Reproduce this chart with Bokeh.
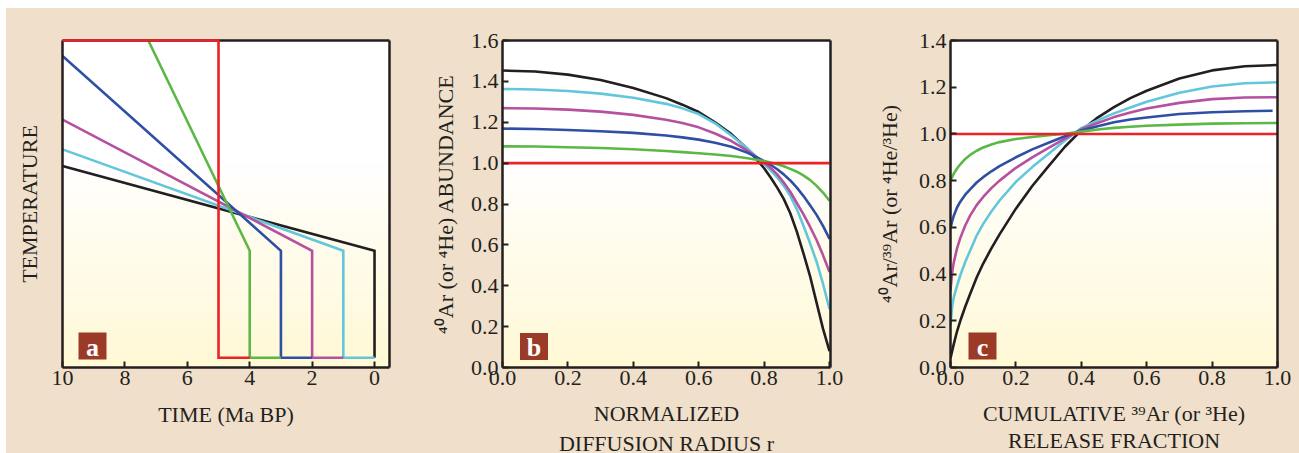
import numpy as np
from bokeh.plotting import figure
from bokeh.layouts import row
from bokeh.models import Range1d, FixedTicker, PrintfTickFormatter, LinearAxis
from bokeh.embed import file_html
from bokeh.resources import INLINE

# ---------------- data ----------------
# Panel a: temperature-time paths (arbitrary temperature units)
a_red_t = [10, 5, 5, 4]
a_red_T = [100, 100, 3, 3]
a_green_t = [7.25, 4, 4, 3]
a_green_T = [100, 35.7, 3, 3]
a_blue_t = [10, 3, 3, 2]
a_blue_T = [95.3, 35.7, 3, 3]
a_magenta_t = [10, 2, 2, 1]
a_magenta_T = [75.8, 35.7, 3, 3]
a_cyan_t = [10, 1, 1, 0]
a_cyan_T = [66.7, 35.7, 3, 3]
a_black_t = [10, 0, 0]
a_black_T = [61.6, 35.7, 3]
a_ticks = [10, 8, 6, 4, 2, 0]

# Panel b: abundance vs normalized radius
b_r = [0, 0.1, 0.2, 0.3, 0.4, 0.5, 0.55, 0.6, 0.65, 0.7, 0.75, 0.8, 0.82, 0.84, 0.86,
       0.88, 0.9, 0.92, 0.94, 0.96, 0.98, 1.0]
b_black = [1.453, 1.448, 1.433, 1.407, 1.368, 1.318, 1.286, 1.250, 1.200, 1.142, 1.068,
           0.975, 0.930, 0.880, 0.825, 0.755, 0.665, 0.560, 0.450, 0.320, 0.190, 0.080]
b_cyan = [1.363, 1.360, 1.353, 1.340, 1.320, 1.290, 1.268, 1.240, 1.195, 1.135, 1.070,
          0.995, 0.965, 0.930, 0.890, 0.840, 0.775, 0.695, 0.610, 0.520, 0.410, 0.286]
b_magenta = [1.269, 1.267, 1.262, 1.252, 1.236, 1.212, 1.196, 1.175, 1.145, 1.108, 1.060,
             1.003, 0.977, 0.945, 0.905, 0.860, 0.805, 0.750, 0.690, 0.625, 0.550, 0.467]
b_blue = [1.169, 1.167, 1.162, 1.156, 1.148, 1.135, 1.126, 1.115, 1.100, 1.080, 1.050,
          1.010, 0.992, 0.970, 0.945, 0.915, 0.880, 0.840, 0.795, 0.748, 0.693, 0.629]
b_green = [1.082, 1.081, 1.078, 1.074, 1.068, 1.059, 1.054, 1.048, 1.042, 1.035, 1.024,
           1.010, 1.003, 0.995, 0.985, 0.972, 0.958, 0.940, 0.918, 0.890, 0.856, 0.816]
b_red_r = [0, 1]
b_red = [1.0, 1.0]
b_xticks = [0, 0.2, 0.4, 0.6, 0.8, 1.0]
b_yticks = [0, 0.2, 0.4, 0.6, 0.8, 1.0, 1.2, 1.4, 1.6]

# Panel c: ratio vs cumulative release fraction
c_f = [0, 0.005, 0.01, 0.02, 0.03, 0.045, 0.06, 0.08, 0.1, 0.125, 0.15, 0.2, 0.25,
       0.3, 0.35, 0.4, 0.45, 0.5, 0.55, 0.6, 0.7, 0.8, 0.9, 1.0]
c_black = [0.04, 0.07, 0.10, 0.155, 0.20, 0.26, 0.315, 0.385, 0.445, 0.51, 0.57, 0.68, 0.777,
           0.862, 0.945, 1.015, 1.07, 1.115, 1.153, 1.185, 1.237, 1.272, 1.29, 1.295]
c_cyan = [0.18, 0.26, 0.30, 0.35, 0.395, 0.452, 0.50, 0.565, 0.615, 0.668, 0.715, 0.795, 0.858,
          0.915, 0.972, 1.025, 1.058, 1.088, 1.113, 1.138, 1.176, 1.203, 1.217, 1.221]
c_magenta = [0.33, 0.405, 0.45, 0.51, 0.555, 0.608, 0.65, 0.695, 0.73, 0.768, 0.80, 0.855, 0.90,
             0.94, 0.98, 1.02, 1.047, 1.072, 1.092, 1.109, 1.133, 1.149, 1.156, 1.157]
c_blue_f = [0, 0.005, 0.01, 0.02, 0.03, 0.045, 0.06, 0.08, 0.1, 0.125, 0.15, 0.2, 0.25,
            0.3, 0.35, 0.4, 0.45, 0.5, 0.55, 0.6, 0.7, 0.8, 0.9, 0.985]
c_blue = [0.596, 0.625, 0.65, 0.685, 0.71, 0.74, 0.763, 0.792, 0.815, 0.84, 0.862, 0.90, 0.934,
          0.962, 0.99, 1.015, 1.033, 1.05, 1.062, 1.07, 1.085, 1.093, 1.097, 1.099]
c_green = [0.80, 0.815, 0.83, 0.852, 0.87, 0.893, 0.91, 0.928, 0.942, 0.955, 0.965, 0.978, 0.987,
           0.994, 1.001, 1.01, 1.019, 1.026, 1.031, 1.035, 1.04, 1.044, 1.046, 1.047]
c_red_f = [0, 1]
c_red = [1.0, 1.0]
c_xticks = [0, 0.2, 0.4, 0.6, 0.8, 1.0]
c_yticks = [0, 0.2, 0.4, 0.6, 0.8, 1.0, 1.2, 1.4]

# ---------------- style ----------------
TAN = "#f0dfca"
INK = "#231f20"
RED = "#ec2227"
GREEN = "#5cb846"
BLUE = "#2e4fa3"
MAGENTA = "#b5519f"
CYAN = "#62c6dc"
BLACK = "#231f20"
BOX = "#9b3a26"
FONT = "Liberation Serif"
LW = 2.6
TOP = 32
BOTTOM = 86
FH = 327


def gradient_image(n=200):
    frac = np.linspace(0, 1, n)  # 0 bottom, 1 top
    w = np.clip((0.62 - frac) / 0.62, 0, 1) ** 0.9
    top = np.array([255, 255, 255], dtype=float)
    bot = np.array([255, 249, 214], dtype=float)
    img = np.empty((n, 2), dtype=np.uint32)
    view = img.view(dtype=np.uint8).reshape((n, 2, 4))
    for k in range(3):
        col = top[k] + (bot[k] - top[k]) * w
        view[:, :, k] = np.repeat(col[:, None], 2, axis=1).astype(np.uint8)
    view[:, :, 3] = 255
    return img


def make_fig(fw, left, right, xr, yr):
    p = figure(frame_width=fw, frame_height=FH, x_range=xr, y_range=yr,
               output_backend="svg", toolbar_location=None,
               min_border_left=left, min_border_right=right,
               min_border_top=TOP, min_border_bottom=BOTTOM)
    p.border_fill_color = TAN
    p.background_fill_color = "white"
    p.outline_line_color = None
    p.grid.visible = False
    x0, x1 = min(xr.start, xr.end), max(xr.start, xr.end)
    y0, y1 = yr.start, yr.end
    p.image_rgba(image=[gradient_image()], x=x0, y=y0, dw=x1 - x0, dh=y1 - y0)
    xa = p.below[0]
    ya = p.left[0]
    for ax in (xa, ya):
        ax.axis_line_color = INK
        ax.axis_line_width = 2.5
        ax.major_tick_line_color = INK
        ax.major_tick_line_width = 2
        ax.major_tick_in = 6
        ax.major_tick_out = 0
        ax.minor_tick_line_color = None
        ax.major_label_text_font = FONT
        ax.major_label_text_font_size = "22px"
        ax.major_label_text_color = INK
        ax.axis_label_text_font = FONT
        ax.axis_label_text_font_size = "22px"
        ax.axis_label_text_font_style = "normal"
        ax.axis_label_text_color = INK
        ax.axis_label_text_line_height = 1.2
    xa.major_label_standoff = 3
    ya.major_label_standoff = 4
    for loc in ("above", "right"):
        p.add_layout(LinearAxis(ticker=FixedTicker(ticks=[]), axis_line_color=INK,
                                axis_line_width=2.5, major_tick_line_color=None,
                                minor_tick_line_color=None, major_label_standoff=0,
                                major_label_text_font_size="0px"), loc)
    return p, xa, ya


def add_tag(p, letter, fw, fh, dx, dy):
    xr, yr = p.x_range, p.y_range
    cx = xr.start + dx * (xr.end - xr.start) / fw
    cy = yr.start + dy * (yr.end - yr.start) / fh
    p.rect(x=[cx], y=[cy], width=28, height=27, width_units="screen",
           height_units="screen", fill_color=BOX, line_color=None)
    p.text(x=[cx], y=[cy], text=[letter], text_align="center", text_baseline="middle",
           text_font={"value": FONT}, text_font_size="26px", text_font_style="bold",
           text_color="white", y_offset=1)


# ---------------- panel a ----------------
pa, pa_x, pa_y = make_fig(327, 56, 36, Range1d(10, -0.48), Range1d(0, 100))
pa_x.ticker = FixedTicker(ticks=a_ticks)
pa_y.ticker = FixedTicker(ticks=[])
pa_y.major_label_standoff = 0
for t, T, c in [(a_black_t, a_black_T, BLACK), (a_cyan_t, a_cyan_T, CYAN),
                (a_magenta_t, a_magenta_T, MAGENTA), (a_blue_t, a_blue_T, BLUE),
                (a_green_t, a_green_T, GREEN)]:
    pa.line(t, T, line_color=c, line_width=LW, line_join="miter")
pa.line(a_red_t, a_red_T, line_color=RED, line_width=LW, line_join="miter", level="overlay")
pa_x.axis_label = "TIME (Ma BP)"
pa_x.axis_label_standoff = 14
pa_y.axis_label = "TEMPERATURE"
pa_y.axis_label_standoff = 21
add_tag(pa, "a", 327, FH, 30, 21.5)

# ---------------- panel b ----------------
pb, pb_x, pb_y = make_fig(328, 77, 40, Range1d(0, 1.003), Range1d(0, 1.6))
pb_x.ticker = FixedTicker(ticks=b_xticks)
pb_y.ticker = FixedTicker(ticks=b_yticks)
pb_x.formatter = PrintfTickFormatter(format="%.1f")
pb_y.formatter = PrintfTickFormatter(format="%.1f")
for ys, c in [(b_black, BLACK), (b_cyan, CYAN), (b_magenta, MAGENTA),
              (b_blue, BLUE), (b_green, GREEN)]:
    pb.line(b_r, ys, line_color=c, line_width=LW)
pb.line(b_red_r, b_red, line_color=RED, line_width=LW)
pb_x.axis_label = "NORMALIZED\nDIFFUSION RADIUS r"
pb_x.axis_label_standoff = 13
pb_y.axis_label = "\u2074\u2070Ar (or \u2074He) ABUNDANCE"
pb_y.axis_label_standoff = 10
add_tag(pb, "b", 328, FH, 31.5, 21)

# ---------------- panel c ----------------
pc, pc_x, pc_y = make_fig(327, 80, 22, Range1d(0, 1.0), Range1d(0, 1.4))
pc_x.ticker = FixedTicker(ticks=c_xticks)
pc_y.ticker = FixedTicker(ticks=c_yticks)
pc_x.formatter = PrintfTickFormatter(format="%.1f")
pc_y.formatter = PrintfTickFormatter(format="%.1f")
pc.line(c_f, c_black, line_color=BLACK, line_width=LW)
pc.line(c_f, c_cyan, line_color=CYAN, line_width=LW)
pc.line(c_f, c_magenta, line_color=MAGENTA, line_width=LW)
pc.line(c_blue_f, c_blue, line_color=BLUE, line_width=LW)
pc.line(c_f, c_green, line_color=GREEN, line_width=LW)
pc.line(c_red_f, c_red, line_color=RED, line_width=LW)
pc_x.axis_label = "CUMULATIVE \u00b3\u2079Ar (or \u00b3He)\nRELEASE FRACTION"
pc_x.axis_label_standoff = 13
pc_x.axis_label_text_line_height = 1.1
pc_y.axis_label = "\u2074\u2070Ar/\u00b3\u2079Ar (or \u2074He/\u00b3He)"
pc_y.axis_label_standoff = 14
add_tag(pc, "c", 327, FH, 32, 21.5)

layout = row(pa, pb, pc, spacing=0)
TEMPLATE = ("{% block postamble %}<style>"
            "html { background: #ffffff; overflow: hidden; }"
            "body { background: " + TAN + "; margin: 8px 0 0 6px !important; overflow: hidden; }"
            "</style>{% endblock %}")
open("out.html", "w").write(file_html(layout, INLINE, template=TEMPLATE))
